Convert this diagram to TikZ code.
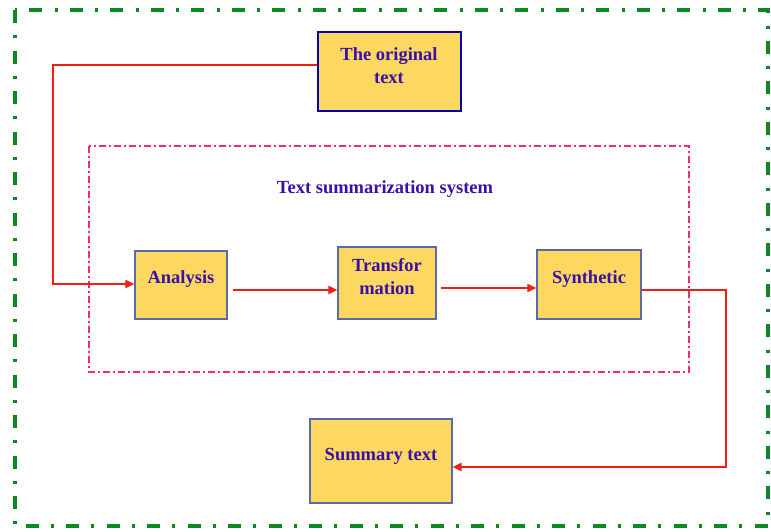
\documentclass[tikz,border=0pt]{standalone}
\usepackage{fontspec}
\setmainfont{Liberation Serif}
\usetikzlibrary{arrows.meta}
\definecolor{boxfill}{HTML}{FCD860}
\definecolor{boxline}{HTML}{5A6AA8}
\definecolor{txtblue}{HTML}{3A10A8}
\definecolor{linered}{HTML}{F02010}
\definecolor{grn}{HTML}{0A8A20}
\definecolor{pinkred}{HTML}{F0305A}
\tikzset{
  blk/.style={draw=boxline, line width=1.2pt, fill=boxfill, inner sep=0pt},
  lbl/.style={text=txtblue, font=\fontsize{18.5}{23}\selectfont\bfseries, align=center},
  conn/.style={draw=linered, line width=2.2pt, -{Triangle[length=9pt,width=8pt]}},
}
\begin{document}
\begin{tikzpicture}[x=1pt,y=-1pt]
\useasboundingbox (0,0) rectangle (771,531);
\fill[white] (0,0) rectangle (771,531);
% outer green dash-dot frame
\draw[grn, line width=3.5pt, dash pattern=on 13pt off 12pt on 3pt off 12.5pt] (15,10) rectangle (768,526);
% inner red dash-dot frame
\draw[pinkred, line width=1.4pt, dash pattern=on 7pt off 3pt on 2pt off 3pt] (89,146) rectangle (689,372);
\node[lbl] (title) at (385,189) {Text summarization system};
% boxes
\node[blk, minimum width=143pt, minimum height=79pt, draw=blue!75!black] (orig) at (389.5,71.5) {};
\node[lbl] (origtxt) at (389,66) {The original\\text};
\node[blk, minimum width=92pt, minimum height=68pt] (ana) at (181,285) {};
\node[lbl] (anatxt) at (181,279) {Analysis};
\node[blk, minimum width=98pt, minimum height=72pt] (tra) at (387,283) {};
\node[lbl] (tratxt) at (387,277) {Transfor\\mation};
\node[blk, minimum width=104pt, minimum height=69pt] (syn) at (589,284.5) {};
\node[lbl] (syntxt) at (589,279) {Synthetic};
\node[blk, minimum width=142pt, minimum height=84pt] (sum) at (381,461) {};
\node[lbl] (sumtxt) at (381,456) {Summary text};
% connectors
\coordinate (c1) at (53,65);
\draw[conn] (orig.west |- c1) -- (c1) |- (ana.west |- 0,284);
\draw[conn] ([xshift=5pt]ana.east |- 0,290) -- (tra.west |- 0,290);
\draw[conn] ([xshift=4pt]tra.east |- 0,288) -- (syn.west |- 0,288);
\coordinate (c2) at (726,290);
\draw[conn] (syn.east |- c2) -- (c2) |- (sum.east |- 0,467);
\end{tikzpicture}
\end{document}
